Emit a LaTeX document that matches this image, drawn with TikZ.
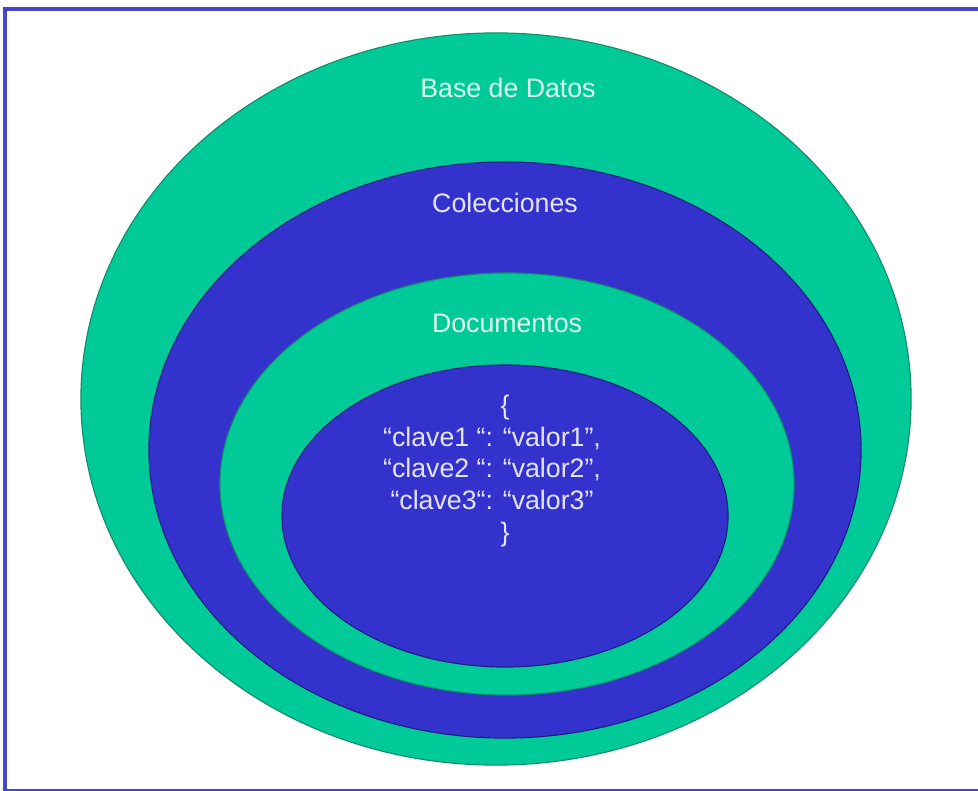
\documentclass[tikz,border=0pt]{standalone}
\usepackage{fontspec}
\setmainfont{Liberation Sans}
\usetikzlibrary{shapes.geometric,positioning}

\definecolor{mintfill}{RGB}{0,202,152}
\definecolor{mintline}{RGB}{20,140,105}
\definecolor{indigofill}{RGB}{52,50,204}
\definecolor{indigoline}{RGB}{32,30,130}
\definecolor{frameblue}{RGB}{72,70,200}
\definecolor{minttext}{RGB}{222,255,240}
\definecolor{indigotext}{RGB}{228,228,255}

\begin{document}
\begin{tikzpicture}[x=0.025cm,y=-0.025cm,
  layer/.style={ellipse,inner sep=0pt,line width=0.8pt},
  mint/.style={layer,fill=mintfill,draw=mintline},
  indigo/.style={layer,fill=indigofill,draw=indigoline},
  tag/.style={font=\fontsize{19}{22}\selectfont,text=#1,inner sep=0pt}]
  \useasboundingbox (0,0) rectangle (978,790);
  \draw[frameblue,line width=2.5pt] (5,9) rectangle (990,790.5);

  % nested layers, outside in
  \node[mint,minimum width=20.75cm,minimum height=18.3cm] (db) at (496,399) {};
  \node[indigo,minimum width=17.8cm,minimum height=14.4cm] (coll) at (505,450) {};
  \node[mint,minimum width=14.35cm,minimum height=10.55cm] (docs) at (507,484) {};
  \node[indigo,minimum width=11.15cm,minimum height=7.55cm] (doc) at (505,516) {};

  \node[tag=minttext] (dbname) at (508,88) {Base de Datos};
  \node[tag=indigotext] (collname) at (505,203) {Colecciones};
  \node[tag=minttext] (docsname) at (507,323) {Documentos};
  \node[tag=indigotext,align=center,font=\fontsize{19}{22.5}\selectfont] (pairs) at (492,471)
    {\hspace*{0.65cm}\{\\ “clave1 “: “valor1”,\\ “clave2 “: “valor2”,\\ “clave3“: “valor3”\\ \hspace*{0.65cm}\}};
\end{tikzpicture}
\end{document}
